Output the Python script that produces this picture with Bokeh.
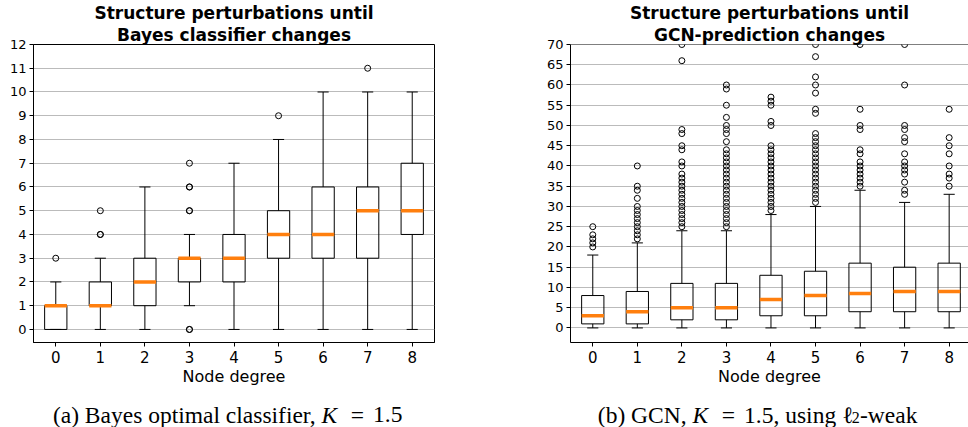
from bokeh.plotting import figure
from bokeh.layouts import row, column
from bokeh.models import Range1d, FixedTicker, Span, ColumnDataSource, Title
from bokeh.core.properties import value
from bokeh.embed import file_html
from bokeh.resources import INLINE

# ---------------- data ----------------
degrees = [0, 1, 2, 3, 4, 5, 6, 7, 8]
degree_labels = ["0", "1", "2", "3", "4", "5", "6", "7", "8"]

bayes_q1 = [0, 1, 1, 2, 2, 3, 3, 3, 4]
bayes_med = [1, 1, 2, 3, 3, 4, 4, 5, 5]
bayes_q3 = [1, 2, 3, 3, 4, 5, 6, 6, 7]
bayes_lo = [0, 0, 0, 1, 0, 0, 0, 0, 0]
bayes_hi = [2, 3, 6, 4, 7, 8, 10, 10, 10]
bayes_out = [
    [3],
    [4, 4, 5],
    [],
    [0, 0, 5, 5, 6, 6, 7],
    [],
    [9],
    [],
    [11],
    [],
]
bayes_yticks = [0, 1, 2, 3, 4, 5, 6, 7, 8, 9, 10, 11, 12]

gcn_q1 = [1, 1, 2, 2, 3, 3, 4, 4, 4]
gcn_med = [3, 4, 5, 5, 7, 8, 8.5, 9, 9]
gcn_q3 = [8, 9, 11, 11, 13, 14, 16, 15, 16]
gcn_lo = [0, 0, 0, 0, 0, 0, 0, 0, 0]
gcn_hi = [18, 21, 24, 24, 28, 30, 34, 31, 33]
gcn_out = [
    [20, 21, 22, 23, 25],
    [22, 23, 24, 25, 26, 27, 28, 29, 30, 32, 34, 35, 40],
    [25, 26, 27, 28, 29, 30, 31, 32, 33, 34, 35, 36, 37, 38, 40, 41, 44, 45, 48, 49, 66, 70],
    [25, 26, 27, 28, 29, 30, 31, 32, 33, 34, 35, 36, 37, 38, 39, 40, 41, 42, 43, 44,
     46, 48, 49, 50, 52, 55, 59, 60],
    [29, 30, 31, 32, 33, 34, 35, 36, 37, 38, 39, 40, 41, 42, 43, 44, 45, 50, 51, 55, 56, 57],
    [31, 32, 33, 34, 35, 36, 37, 38, 39, 40, 41, 42, 43, 44, 45, 46, 47, 48,
     53, 54, 58, 60, 62, 67, 70],
    [35, 36, 37, 38, 39, 40, 41, 43, 44, 49, 50, 54, 70],
    [33, 34, 36, 38, 39, 40, 41, 43, 46, 47, 49, 50, 60, 70],
    [35, 37, 38, 40, 43, 45, 47, 54],
]
gcn_yticks = [0, 5, 10, 15, 20, 25, 30, 35, 40, 45, 50, 55, 60, 65, 70]

title_a = ["Structure perturbations until", "Bayes classifier changes"]
title_b = ["Structure perturbations until", "GCN-prediction changes"]
xlabel = "Node degree"
caption_a = ["(a) Bayes optimal classifier,", "K", "=", "1.5"]
caption_b = ["(b) GCN,", "K", "=", "1.5, using", "\u2113", "2", "-weak"]

FONT = "DejaVu Sans"
ORANGE = "#ff7f0e"
BOX_HALF = 0.25
CAP_HALF = 0.125


def make_panel(q1, med, q3, lo, hi, outs, yticks, yrange, xrange, titles,
               border_left, border_right, full_outline):
    p = figure(width=484, height=390, output_backend="svg", toolbar_location=None,
               title=None,
               x_range=Range1d(*xrange), y_range=Range1d(*yrange),
               min_border_left=border_left, min_border_right=border_right,
               min_border_top=42, min_border_bottom=48,
               background_fill_color="white", border_fill_color="white")
    # second title line first: it sits nearest to the frame
    p.add_layout(Title(text=titles[1], align="center", text_font=FONT,
                       text_font_size="17px", text_font_style="bold",
                       text_color="black", standoff=0), "above")
    p.add_layout(Title(text=titles[0], align="center", text_font=FONT,
                       text_font_size="17px", text_font_style="bold",
                       text_color="black", standoff=0), "above")

    src = ColumnDataSource(dict(
        x=degrees,
        xl=[d - BOX_HALF for d in degrees], xr=[d + BOX_HALF for d in degrees],
        cl=[d - CAP_HALF for d in degrees], cr=[d + CAP_HALF for d in degrees],
        q1=q1, med=med, q3=q3, lo=lo, hi=hi))
    p.segment(x0="x", y0="q3", x1="x", y1="hi", source=src, line_color="black", line_width=1)
    p.segment(x0="x", y0="q1", x1="x", y1="lo", source=src, line_color="black", line_width=1)
    p.segment(x0="cl", y0="hi", x1="cr", y1="hi", source=src, line_color="black", line_width=1)
    p.segment(x0="cl", y0="lo", x1="cr", y1="lo", source=src, line_color="black", line_width=1)
    p.quad(left="xl", right="xr", bottom="q1", top="q3", source=src,
           fill_color=None, line_color="black", line_width=1)
    p.segment(x0="xl", y0="med", x1="xr", y1="med", source=src,
              line_color=ORANGE, line_width=3.5)
    ox, oy = [], []
    for d, vals in zip(degrees, outs):
        for v in vals:
            ox.append(d)
            oy.append(v)
    p.scatter(ox, oy, marker="circle", size=6, fill_color=None,
              line_color="black", line_width=1)

    p.xaxis.ticker = FixedTicker(ticks=degrees)
    p.xaxis.major_label_overrides = {d: lab for d, lab in zip(degrees, degree_labels)}
    p.yaxis.ticker = FixedTicker(ticks=yticks)
    for ax in (p.xaxis, p.yaxis):
        ax.minor_tick_line_color = None
        ax.major_tick_in = 0
        ax.major_tick_out = 4
        ax.major_tick_line_color = "black"
        ax.axis_line_color = "black"
        ax.major_label_text_color = "black"
        ax.major_label_text_font = FONT
    p.xaxis.major_label_standoff = 4
    p.yaxis.major_label_standoff = 3
    p.xaxis.major_label_text_font_size = "15px"
    p.yaxis.major_label_text_font_size = "13px"
    p.xaxis.axis_label = xlabel
    p.xaxis.axis_label_text_font = FONT
    p.xaxis.axis_label_text_font_size = "16px"
    p.xaxis.axis_label_text_font_style = "normal"
    p.xaxis.axis_label_text_color = "black"
    p.xaxis.axis_label_standoff = 1

    p.xgrid.visible = False
    p.ygrid.grid_line_color = "#bbbbbb"
    p.ygrid.grid_line_width = 1

    if full_outline:
        p.outline_line_color = "black"
        p.outline_line_alpha = 1
    else:
        p.outline_line_color = None
        p.add_layout(Span(location=yrange[1], dimension="width",
                          line_color="black", line_width=1))
    return p


left = make_panel(bayes_q1, bayes_med, bayes_q3, bayes_lo, bayes_hi, bayes_out,
                  bayes_yticks, (-0.55, 12), (-0.5, 8.5), title_a, 33, 50, True)
right = make_panel(gcn_q1, gcn_med, gcn_q3, gcn_lo, gcn_hi, gcn_out,
                   gcn_yticks, (-3.6, 70), (-0.5, 8.434), title_b, 86, 0, False)

# ---------------- captions ----------------
cap = figure(width=968, height=37, output_backend="svg", toolbar_location=None,
             x_range=Range1d(0, 968), y_range=Range1d(0, 37), title=None,
             x_axis_type=None, y_axis_type=None,
             min_border=0, background_fill_color="white", border_fill_color="white")
cap.grid.visible = False
cap.outline_line_color = None

SERIF = value("Liberation Serif")
CS = "23.5px"
SP = 5.9      # word space
KW = 20.0     # math K advance
TS = 6.6      # thick math space
EQ = 18.4     # '=' advance
BASE = 13


def t(x, s, align="left", style="normal", size=CS, dy=0):
    cap.text(x=[x], y=[BASE + dy], text=[s], text_font=SERIF, text_font_size=size,
             text_font_style=style, text_align=align, text_baseline="alphabetic",
             text_color="black")


# (a)
ka = 321
t(ka - SP, caption_a[0], align="right")
t(ka, caption_a[1], style="italic")
t(ka + KW + TS + EQ / 2, caption_a[2], align="center")
t(ka + KW + TS + EQ + TS, caption_a[3])

# (b)
kb = 692
t(kb - SP, caption_b[0], align="right")
t(kb, caption_b[1], style="italic")
t(kb + KW + TS + EQ / 2, caption_b[2], align="center")
x15 = kb + KW + TS + EQ + TS
t(x15, caption_b[3])
xl = x15 + 92.0 + SP
t(xl, caption_b[4])
t(xl + 9.8, caption_b[5], size="16px", dy=-3)
t(xl + 9.8 + 8.2, caption_b[6])

layout = column(row(left, right), cap)

open("out.html", "w").write(file_html(layout, INLINE))
